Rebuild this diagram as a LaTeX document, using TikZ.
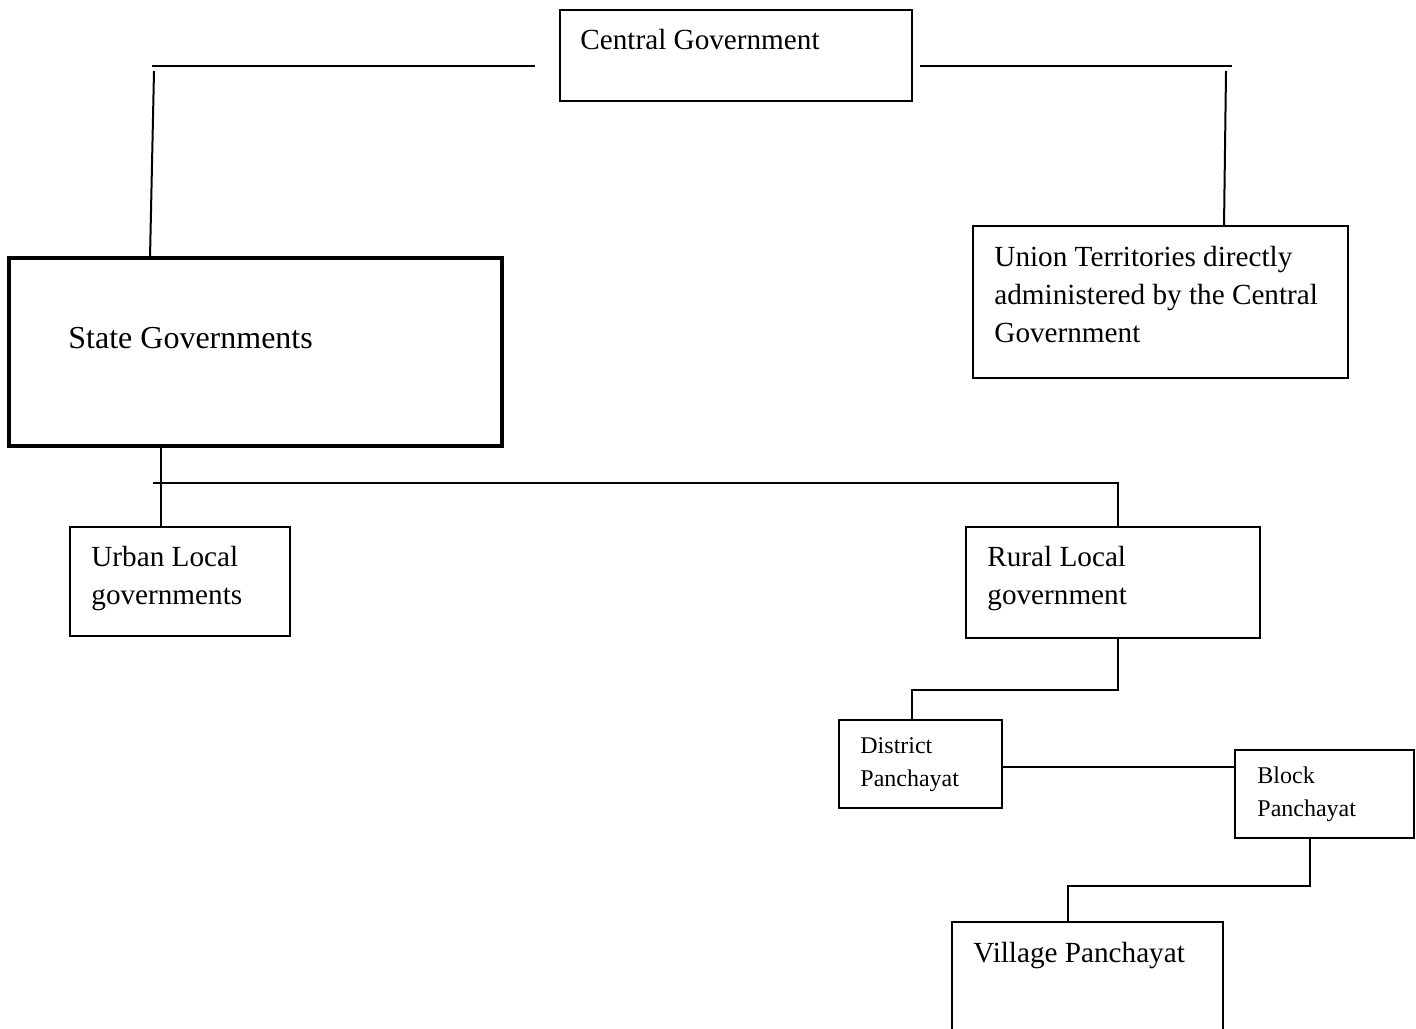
\documentclass[tikz,border=0pt]{standalone}
\usepackage{fontspec}
\setmainfont{Liberation Serif}
\usetikzlibrary{calc}
\begin{document}
\begin{tikzpicture}[x=0.5pt,y=-0.5pt,
  box/.style={draw, line width=1pt, anchor=north west, inner sep=0pt, outer sep=0pt},
  thickbox/.style={box, line width=2pt},
  txt/.style={anchor=base west, inner sep=0pt, align=left, font=\fontsize{14.6}{19}\selectfont},
  bigtxt/.style={txt, font=\fontsize{16}{20}\selectfont},
  smalltxt/.style={txt, font=\fontsize{12}{16.5}\selectfont},
  ln/.style={line width=1pt}]
\useasboundingbox (0,0) rectangle (1416,1028);

% boxes
\node[box, minimum width=176pt, minimum height=45.5pt] (cg) at (560,10) {};
\node[box, minimum width=187.5pt, minimum height=76pt] (ut) at (973,226) {};
\node[thickbox, minimum width=246.5pt, minimum height=94pt] (sg) at (9,258) {};
\node[box, minimum width=110pt, minimum height=54.5pt] (ul) at (70,527) {};
\node[box, minimum width=147pt, minimum height=55.5pt] (rl) at (966,527) {};
\node[box, minimum width=81.5pt, minimum height=44pt] (dp) at (839,720) {};
\node[box, minimum width=89.5pt, minimum height=44pt] (bp) at (1235,750) {};
\node[box, minimum width=135.5pt, minimum height=55pt] (vp) at (952,922) {};

% texts (anchor = baseline of the last line)
\node[txt] (cgt) at (580,49) {Central Government};
\node[txt] (utt) at (994,342) {Union Territories directly\\administered by the Central\\Government};
\node[bigtxt] (sgt) at (68,348) {State Governments};
\node[txt] (ult) at (91,604) {Urban Local\\governments};
\node[txt] (rlt) at (987,604) {Rural Local\\government};
\node[smalltxt] (dpt) at (860,786) {District\\Panchayat};
\node[smalltxt] (bpt) at (1257,816) {Block\\Panchayat};
\node[txt] (vpt) at (973,962) {Village Panchayat};

% connectors
\coordinate (lh1) at (152,66);
\coordinate (lh2) at (535,66);
\coordinate (lv) at (154,71);
\coordinate (rh1) at (920,66);
\coordinate (rh2) at (1232,66);
\coordinate (rv) at (1226,71);
\coordinate (sgtop) at ($(sg.north west)+(141,0)$);
\coordinate (uttop) at ($(ut.north west)+(251,0)$);
\coordinate (sgbot) at ($(sg.south west)+(152,0)$);
\coordinate (hb) at (153,483);
\coordinate (rltop) at ($(rl.north west)+(152,0)$);
\coordinate (rlbot) at ($(rl.south west)+(152,0)$);
\coordinate (dptop) at ($(dp.north west)+(73,0)$);
\coordinate (dpright) at ($(dp.north east)+(0,47)$);
\coordinate (bpbot) at ($(bp.south west)+(75,0)$);
\coordinate (vptop) at ($(vp.north west)+(116,0)$);

\draw[ln] (lh1) -- (lh2);
\draw[ln] (lv) -- (sgtop);
\draw[ln] (rh1) -- (rh2);
\draw[ln] (rv) -- (uttop);
\draw[ln] (sgbot) -- (sgbot |- ul.north);
\draw[ln] (hb) -- (hb -| rltop) -- (rltop);
\draw[ln] (rlbot) -- ++(0,52) -| (dptop);
\draw[ln] (dpright) -- (dpright -| bp.west);
\draw[ln] (bpbot) -- ++(0,48) -| (vptop);
\end{tikzpicture}
\end{document}
